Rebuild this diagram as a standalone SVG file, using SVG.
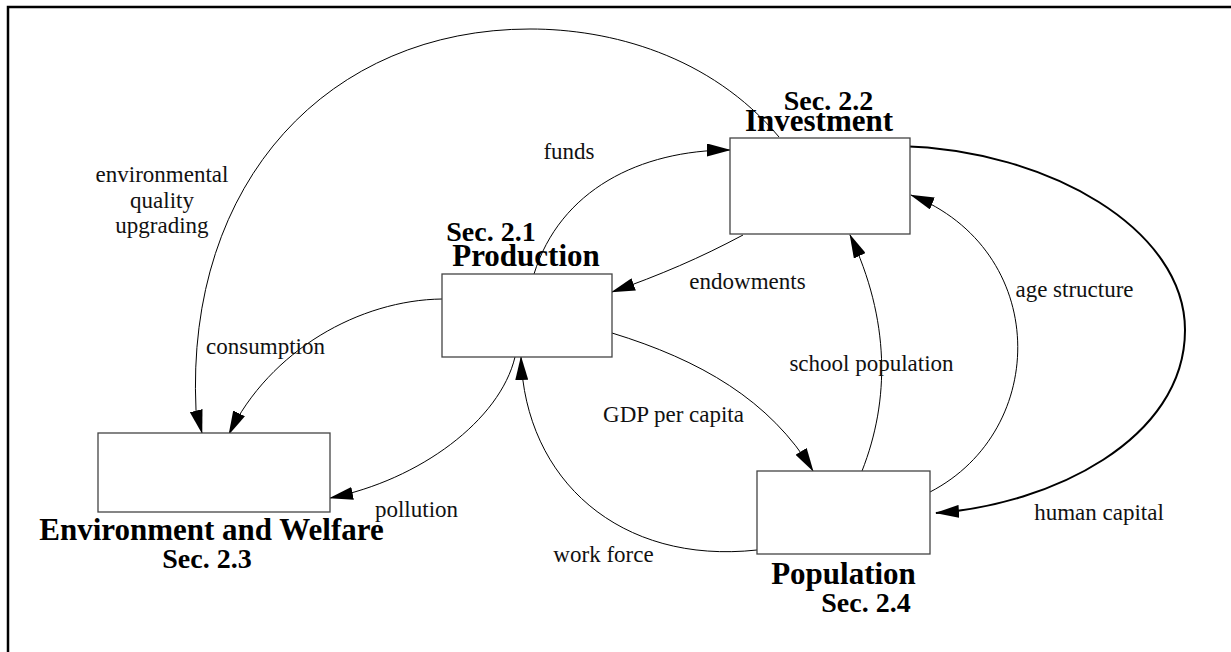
<svg xmlns="http://www.w3.org/2000/svg" width="1231" height="652" viewBox="0 0 1231 652">
<style>
.box{fill:#fff;stroke:#444;stroke-width:1.3}
.name{font-family:"Liberation Serif",serif;font-weight:bold;font-size:31px;fill:#000;text-anchor:middle}
.sec{font-family:"Liberation Serif",serif;font-weight:bold;font-size:28px;fill:#000;text-anchor:middle}
.lbl{font-family:"Liberation Serif",serif;font-size:23px;fill:#111;text-anchor:middle}
.c{fill:none;stroke:#000;stroke-width:1;marker-end:url(#ah)}
.c2{fill:none;stroke:#000;stroke-width:2;marker-end:url(#ah)}
</style>
<defs>
<marker id="ah" markerUnits="userSpaceOnUse" viewBox="0 0 24 13" markerWidth="24" markerHeight="13" refX="23" refY="6.5" orient="auto">
<path d="M0,0 L24,6.5 L0,13 z" fill="#000"/>
</marker>
</defs>
<rect width="1231" height="652" fill="#fff"/>
<path d="M8,652 L8,7 L1231,7" fill="none" stroke="#000" stroke-width="2.5"/>

<g id="connectors">
<path class="c" d="M779,137 C710,55 610,29 530,29 C330,29 185,180 196,410 L202,433"/>
<path class="c" d="M534,274 C560,190 640,150 730,150"/>
<path class="c" d="M743,235 C700,258 660,275 612,292"/>
<path class="c" d="M442,299 C360,300 270,350 229,434"/>
<path class="c" d="M515,357 C500,420 420,480 330,498"/>
<path class="c" d="M612,333 C700,360 770,400 813,471"/>
<path class="c" d="M757,550 C620,565 525,480 521,357"/>
<path class="c" d="M862,471 C890,400 890,320 850,235"/>
<path class="c" d="M930,492 C1050,430 1050,250 911,195"/>
<path class="c2" d="M900,146 C1050,150 1185,230 1185,330 C1185,440 1050,505 936,513"/>
</g>

<g id="investment">
<rect class="box" x="730" y="138" width="180" height="96"/>
<text class="sec" x="828.5" y="110">Sec. 2.2</text>
<text class="name" x="819" y="131">Investment</text>
</g>
<g id="production">
<rect class="box" x="442" y="274" width="170" height="83"/>
<text class="sec" x="491" y="241">Sec. 2.1</text>
<text class="name" x="526" y="266">Production</text>
</g>
<g id="environment">
<rect class="box" x="98" y="433" width="232" height="79"/>
<text class="name" x="211.5" y="540">Environment and Welfare</text>
<text class="sec" x="207" y="568">Sec. 2.3</text>
</g>
<g id="population">
<rect class="box" x="757" y="471" width="173" height="83"/>
<text class="name" x="843.5" y="584">Population</text>
<text class="sec" x="866" y="612">Sec. 2.4</text>
</g>

<g id="labels">
<text class="lbl" x="162" y="182">environmental</text>
<text class="lbl" x="162" y="208">quality</text>
<text class="lbl" x="162" y="233">upgrading</text>
<text class="lbl" x="569" y="159">funds</text>
<text class="lbl" x="747.5" y="289">endowments</text>
<text class="lbl" x="265.5" y="354">consumption</text>
<text class="lbl" x="416.5" y="517">pollution</text>
<text class="lbl" x="673.5" y="422">GDP per capita</text>
<text class="lbl" x="603.5" y="562">work force</text>
<text class="lbl" x="871.5" y="371">school population</text>
<text class="lbl" x="1074.5" y="297">age structure</text>
<text class="lbl" x="1099" y="520">human capital</text>
</g>
</svg>
